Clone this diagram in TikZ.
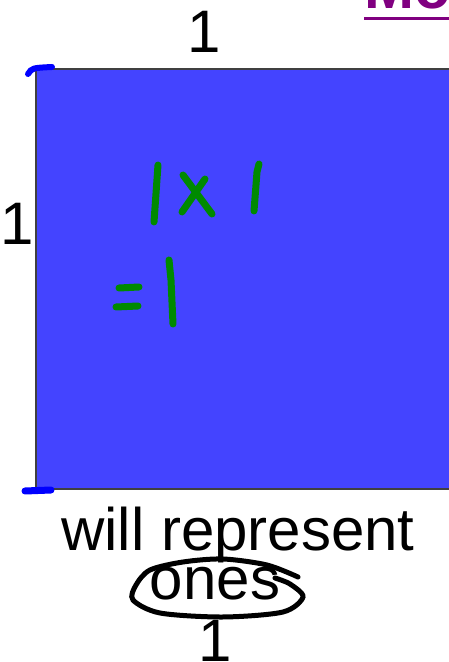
\documentclass[tikz,border=0pt]{standalone}
\usepackage{fontspec}
\setmainfont{Liberation Sans}
\usepackage{xcolor}
\definecolor{TileBlue}{HTML}{4444FF}
\definecolor{InkGreen}{HTML}{008A00}
\definecolor{InkBlue}{HTML}{0000FF}
\definecolor{TitlePurple}{HTML}{800080}

\begin{document}
\begin{tikzpicture}[x=1pt, y=1pt, every node/.style={font=\fontsize{60}{62}\selectfont, inner sep=0pt}]
\useasboundingbox (0,0) rectangle (449,662);
\fill[TileBlue] (36,593) rectangle (470,173);
\draw[black!75, line width=1.3pt] (36,593) rectangle (470,173);
\node[anchor=base] (top) at (204,609) {1};
\node[anchor=base] (side) at (17,417) {1};
\node[anchor=base] (will) at (238,111) {will represent};
\node[anchor=base] (ones) at (215,62) {ones};
\node[anchor=base] (bottom) at (215,0.5) {1};
\node[anchor=base west, font=\fontsize{60}{62}\selectfont\bfseries, TitlePurple] (title) at (364,653) {Mo};
\draw[TitlePurple, line width=3pt] ([yshift=-9.5pt]title.base west) -- ([yshift=-9.5pt, xshift=40pt]title.base east);
% green ink: 1 x 1 = 1
\draw[InkGreen, line width=7pt, line cap=round] (158,497) -- (154,440);
\draw[InkGreen, line width=7pt, line cap=round] (183,487) -- (212,448);
\draw[InkGreen, line width=7pt, line cap=round] (205,483) -- (182,450);
\draw[InkGreen, line width=7pt, line cap=round] (259,498) -- (257,490) -- (254,451);
\draw[InkGreen, line width=7pt, line cap=round] (119,374) -- (139,375);
\draw[InkGreen, line width=7pt, line cap=round] (116,355) -- (138,356);
\draw[InkGreen, line width=7pt, line cap=round] (169,402) -- (171,382) -- (173,338);
% blue corner marks
\draw[InkBlue, line width=6pt, line cap=round] (28,588) .. controls (32,594) .. (52,595);
\draw[InkBlue, line width=7pt, line cap=round] (25,171) -- (51,172);
% loop round ones
\draw[black, line width=5pt, line cap=round] plot[smooth] coordinates {(298,85) (267,97) (223,103) (183,100) (150,92) (136,77) (133,62) (160,49) (223,45) (283,50) (303,65) (290,78) (275,84)};
\end{tikzpicture}
\end{document}
